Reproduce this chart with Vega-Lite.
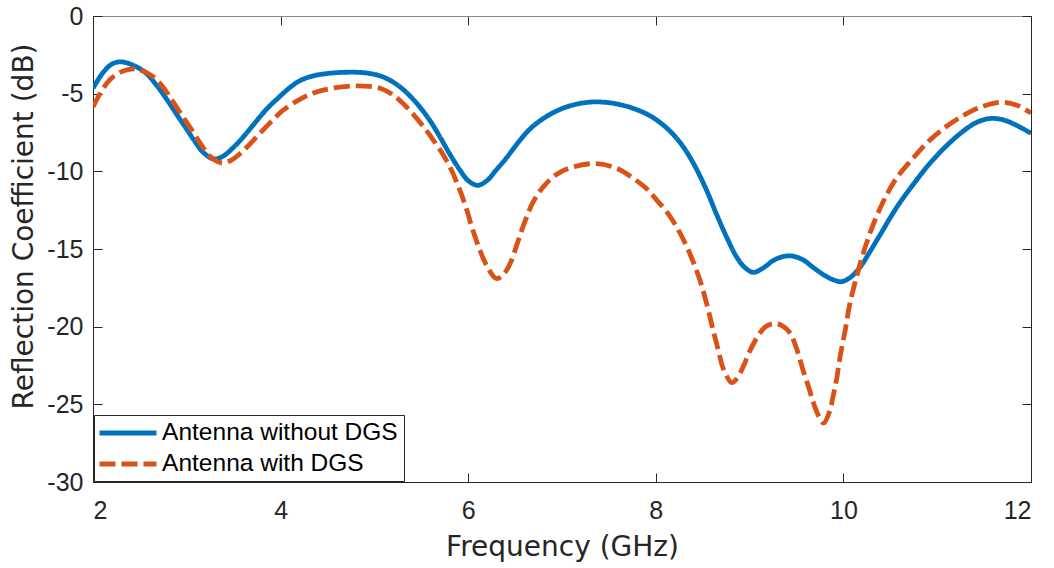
{
  "$schema": "https://vega.github.io/schema/vega-lite/v6.json",
  "width": 938,
  "height": 466,
  "autosize": {"type": "none"},
  "padding": {"left": 93, "top": 16, "right": 23, "bottom": 86},
  "background": "white",
  "config": {
    "font": "Liberation Sans",
    "view": {"stroke": null},
    "axis": {
      "labelFont": "Liberation Sans",
      "labelFontSize": 25,
      "titleFont": "DejaVu Sans",
      "titleFontSize": 28,
      "labelColor": "#262626",
      "titleColor": "#262626",
      "titleFontWeight": "normal",
      "domainColor": "#262626",
      "tickColor": "#262626",
      "gridColor": "#dedede",
      "gridWidth": 1,
      "tickSize": -9,
      "tickWidth": 1
    }
  },
  "datasets": {
    "curves": [
      {"f": 2.0, "v": -4.65, "series": "Antenna without DGS"},
      {"f": 2.1, "v": -3.7, "series": "Antenna without DGS"},
      {"f": 2.2, "v": -3.1, "series": "Antenna without DGS"},
      {"f": 2.29, "v": -2.95, "series": "Antenna without DGS"},
      {"f": 2.4, "v": -3.1, "series": "Antenna without DGS"},
      {"f": 2.55, "v": -3.6, "series": "Antenna without DGS"},
      {"f": 2.67, "v": -4.4, "series": "Antenna without DGS"},
      {"f": 2.79, "v": -5.4, "series": "Antenna without DGS"},
      {"f": 2.9, "v": -6.4, "series": "Antenna without DGS"},
      {"f": 3.0, "v": -7.3, "series": "Antenna without DGS"},
      {"f": 3.1, "v": -8.2, "series": "Antenna without DGS"},
      {"f": 3.17, "v": -8.75, "series": "Antenna without DGS"},
      {"f": 3.28, "v": -9.2, "series": "Antenna without DGS"},
      {"f": 3.38, "v": -9.05, "series": "Antenna without DGS"},
      {"f": 3.49, "v": -8.5, "series": "Antenna without DGS"},
      {"f": 3.6, "v": -7.8, "series": "Antenna without DGS"},
      {"f": 3.71, "v": -7.0, "series": "Antenna without DGS"},
      {"f": 3.85, "v": -6.0, "series": "Antenna without DGS"},
      {"f": 3.97, "v": -5.3, "series": "Antenna without DGS"},
      {"f": 4.1, "v": -4.6, "series": "Antenna without DGS"},
      {"f": 4.21, "v": -4.15, "series": "Antenna without DGS"},
      {"f": 4.35, "v": -3.85, "series": "Antenna without DGS"},
      {"f": 4.5, "v": -3.7, "series": "Antenna without DGS"},
      {"f": 4.71, "v": -3.62, "series": "Antenna without DGS"},
      {"f": 4.9, "v": -3.66, "series": "Antenna without DGS"},
      {"f": 5.06, "v": -3.85, "series": "Antenna without DGS"},
      {"f": 5.17, "v": -4.15, "series": "Antenna without DGS"},
      {"f": 5.27, "v": -4.55, "series": "Antenna without DGS"},
      {"f": 5.38, "v": -5.15, "series": "Antenna without DGS"},
      {"f": 5.49, "v": -5.9, "series": "Antenna without DGS"},
      {"f": 5.6, "v": -6.8, "series": "Antenna without DGS"},
      {"f": 5.7, "v": -7.8, "series": "Antenna without DGS"},
      {"f": 5.8, "v": -8.85, "series": "Antenna without DGS"},
      {"f": 5.91, "v": -9.9, "series": "Antenna without DGS"},
      {"f": 6.0, "v": -10.6, "series": "Antenna without DGS"},
      {"f": 6.1, "v": -10.9, "series": "Antenna without DGS"},
      {"f": 6.2, "v": -10.6, "series": "Antenna without DGS"},
      {"f": 6.3, "v": -9.9, "series": "Antenna without DGS"},
      {"f": 6.4, "v": -9.2, "series": "Antenna without DGS"},
      {"f": 6.5, "v": -8.4, "series": "Antenna without DGS"},
      {"f": 6.6, "v": -7.65, "series": "Antenna without DGS"},
      {"f": 6.69, "v": -7.1, "series": "Antenna without DGS"},
      {"f": 6.8, "v": -6.6, "series": "Antenna without DGS"},
      {"f": 6.93, "v": -6.15, "series": "Antenna without DGS"},
      {"f": 7.05, "v": -5.85, "series": "Antenna without DGS"},
      {"f": 7.2, "v": -5.62, "series": "Antenna without DGS"},
      {"f": 7.35, "v": -5.53, "series": "Antenna without DGS"},
      {"f": 7.5, "v": -5.58, "series": "Antenna without DGS"},
      {"f": 7.65, "v": -5.75, "series": "Antenna without DGS"},
      {"f": 7.76, "v": -5.95, "series": "Antenna without DGS"},
      {"f": 7.9, "v": -6.3, "series": "Antenna without DGS"},
      {"f": 8.01, "v": -6.7, "series": "Antenna without DGS"},
      {"f": 8.15, "v": -7.4, "series": "Antenna without DGS"},
      {"f": 8.29, "v": -8.4, "series": "Antenna without DGS"},
      {"f": 8.42, "v": -9.7, "series": "Antenna without DGS"},
      {"f": 8.54, "v": -11.2, "series": "Antenna without DGS"},
      {"f": 8.65, "v": -12.8, "series": "Antenna without DGS"},
      {"f": 8.76, "v": -14.3, "series": "Antenna without DGS"},
      {"f": 8.86, "v": -15.5, "series": "Antenna without DGS"},
      {"f": 8.95, "v": -16.2, "series": "Antenna without DGS"},
      {"f": 9.04, "v": -16.5, "series": "Antenna without DGS"},
      {"f": 9.15, "v": -16.2, "series": "Antenna without DGS"},
      {"f": 9.25, "v": -15.75, "series": "Antenna without DGS"},
      {"f": 9.35, "v": -15.5, "series": "Antenna without DGS"},
      {"f": 9.45, "v": -15.45, "series": "Antenna without DGS"},
      {"f": 9.57, "v": -15.7, "series": "Antenna without DGS"},
      {"f": 9.68, "v": -16.2, "series": "Antenna without DGS"},
      {"f": 9.8, "v": -16.7, "series": "Antenna without DGS"},
      {"f": 9.9, "v": -17.0, "series": "Antenna without DGS"},
      {"f": 9.98, "v": -17.1, "series": "Antenna without DGS"},
      {"f": 10.08, "v": -16.8, "series": "Antenna without DGS"},
      {"f": 10.18, "v": -16.15, "series": "Antenna without DGS"},
      {"f": 10.28, "v": -15.2, "series": "Antenna without DGS"},
      {"f": 10.39, "v": -14.1, "series": "Antenna without DGS"},
      {"f": 10.57, "v": -12.3, "series": "Antenna without DGS"},
      {"f": 10.75, "v": -10.8, "series": "Antenna without DGS"},
      {"f": 10.92, "v": -9.5, "series": "Antenna without DGS"},
      {"f": 11.1, "v": -8.35, "series": "Antenna without DGS"},
      {"f": 11.28, "v": -7.4, "series": "Antenna without DGS"},
      {"f": 11.42, "v": -6.85, "series": "Antenna without DGS"},
      {"f": 11.56, "v": -6.6, "series": "Antenna without DGS"},
      {"f": 11.7, "v": -6.68, "series": "Antenna without DGS"},
      {"f": 11.85, "v": -7.05, "series": "Antenna without DGS"},
      {"f": 12.0, "v": -7.55, "series": "Antenna without DGS"},
      {"f": 2.0, "v": -5.85, "series": "Antenna with DGS"},
      {"f": 2.09, "v": -4.85, "series": "Antenna with DGS"},
      {"f": 2.18, "v": -4.1, "series": "Antenna with DGS"},
      {"f": 2.3, "v": -3.6, "series": "Antenna with DGS"},
      {"f": 2.43, "v": -3.4, "series": "Antenna with DGS"},
      {"f": 2.54, "v": -3.55, "series": "Antenna with DGS"},
      {"f": 2.64, "v": -3.9, "series": "Antenna with DGS"},
      {"f": 2.75, "v": -4.6, "series": "Antenna with DGS"},
      {"f": 2.85, "v": -5.5, "series": "Antenna with DGS"},
      {"f": 2.96, "v": -6.5, "series": "Antenna with DGS"},
      {"f": 3.07, "v": -7.5, "series": "Antenna with DGS"},
      {"f": 3.16, "v": -8.35, "series": "Antenna with DGS"},
      {"f": 3.25, "v": -9.05, "series": "Antenna with DGS"},
      {"f": 3.37, "v": -9.45, "series": "Antenna with DGS"},
      {"f": 3.47, "v": -9.3, "series": "Antenna with DGS"},
      {"f": 3.57, "v": -8.85, "series": "Antenna with DGS"},
      {"f": 3.68, "v": -8.2, "series": "Antenna with DGS"},
      {"f": 3.78, "v": -7.55, "series": "Antenna with DGS"},
      {"f": 3.9, "v": -6.8, "series": "Antenna with DGS"},
      {"f": 4.03, "v": -6.05, "series": "Antenna with DGS"},
      {"f": 4.21, "v": -5.35, "series": "Antenna with DGS"},
      {"f": 4.35, "v": -4.95, "series": "Antenna with DGS"},
      {"f": 4.55, "v": -4.65, "series": "Antenna with DGS"},
      {"f": 4.81, "v": -4.5, "series": "Antenna with DGS"},
      {"f": 5.06, "v": -4.65, "series": "Antenna with DGS"},
      {"f": 5.18, "v": -5.0, "series": "Antenna with DGS"},
      {"f": 5.3, "v": -5.6, "series": "Antenna with DGS"},
      {"f": 5.41, "v": -6.3, "series": "Antenna with DGS"},
      {"f": 5.52, "v": -7.1, "series": "Antenna with DGS"},
      {"f": 5.63, "v": -8.0, "series": "Antenna with DGS"},
      {"f": 5.73, "v": -8.9, "series": "Antenna with DGS"},
      {"f": 5.82, "v": -9.9, "series": "Antenna with DGS"},
      {"f": 5.91, "v": -11.2, "series": "Antenna with DGS"},
      {"f": 5.98, "v": -12.4, "series": "Antenna with DGS"},
      {"f": 6.05, "v": -13.8, "series": "Antenna with DGS"},
      {"f": 6.12, "v": -15.0, "series": "Antenna with DGS"},
      {"f": 6.2, "v": -16.1, "series": "Antenna with DGS"},
      {"f": 6.3, "v": -16.9, "series": "Antenna with DGS"},
      {"f": 6.38, "v": -16.6, "series": "Antenna with DGS"},
      {"f": 6.45, "v": -15.9, "series": "Antenna with DGS"},
      {"f": 6.52, "v": -14.7, "series": "Antenna with DGS"},
      {"f": 6.6, "v": -13.3, "series": "Antenna with DGS"},
      {"f": 6.69, "v": -12.0, "series": "Antenna with DGS"},
      {"f": 6.8, "v": -11.0, "series": "Antenna with DGS"},
      {"f": 6.94, "v": -10.2, "series": "Antenna with DGS"},
      {"f": 7.1, "v": -9.75, "series": "Antenna with DGS"},
      {"f": 7.37, "v": -9.5, "series": "Antenna with DGS"},
      {"f": 7.6, "v": -9.85, "series": "Antenna with DGS"},
      {"f": 7.76, "v": -10.45, "series": "Antenna with DGS"},
      {"f": 7.9, "v": -11.1, "series": "Antenna with DGS"},
      {"f": 8.01, "v": -11.85, "series": "Antenna with DGS"},
      {"f": 8.14, "v": -12.8, "series": "Antenna with DGS"},
      {"f": 8.26, "v": -14.0, "series": "Antenna with DGS"},
      {"f": 8.37, "v": -15.4, "series": "Antenna with DGS"},
      {"f": 8.47, "v": -17.0, "series": "Antenna with DGS"},
      {"f": 8.55, "v": -18.7, "series": "Antenna with DGS"},
      {"f": 8.61, "v": -20.2, "series": "Antenna with DGS"},
      {"f": 8.67, "v": -21.6, "series": "Antenna with DGS"},
      {"f": 8.72, "v": -22.7, "series": "Antenna with DGS"},
      {"f": 8.81, "v": -23.6, "series": "Antenna with DGS"},
      {"f": 8.87, "v": -23.3, "series": "Antenna with DGS"},
      {"f": 8.93, "v": -22.6, "series": "Antenna with DGS"},
      {"f": 9.0, "v": -21.6, "series": "Antenna with DGS"},
      {"f": 9.08, "v": -20.7, "series": "Antenna with DGS"},
      {"f": 9.17, "v": -20.0, "series": "Antenna with DGS"},
      {"f": 9.27, "v": -19.8, "series": "Antenna with DGS"},
      {"f": 9.35, "v": -19.95, "series": "Antenna with DGS"},
      {"f": 9.43, "v": -20.4, "series": "Antenna with DGS"},
      {"f": 9.5, "v": -21.4, "series": "Antenna with DGS"},
      {"f": 9.57, "v": -22.8, "series": "Antenna with DGS"},
      {"f": 9.63, "v": -23.9, "series": "Antenna with DGS"},
      {"f": 9.68, "v": -24.9, "series": "Antenna with DGS"},
      {"f": 9.74, "v": -25.8, "series": "Antenna with DGS"},
      {"f": 9.79, "v": -26.2, "series": "Antenna with DGS"},
      {"f": 9.85, "v": -25.5, "series": "Antenna with DGS"},
      {"f": 9.89, "v": -24.5, "series": "Antenna with DGS"},
      {"f": 9.93, "v": -23.3, "series": "Antenna with DGS"},
      {"f": 9.96, "v": -22.1, "series": "Antenna with DGS"},
      {"f": 10.02, "v": -20.2, "series": "Antenna with DGS"},
      {"f": 10.07, "v": -18.5, "series": "Antenna with DGS"},
      {"f": 10.14, "v": -16.8, "series": "Antenna with DGS"},
      {"f": 10.21, "v": -15.3, "series": "Antenna with DGS"},
      {"f": 10.3, "v": -13.7, "series": "Antenna with DGS"},
      {"f": 10.39, "v": -12.4, "series": "Antenna with DGS"},
      {"f": 10.48, "v": -11.3, "series": "Antenna with DGS"},
      {"f": 10.57, "v": -10.4, "series": "Antenna with DGS"},
      {"f": 10.75, "v": -9.1, "series": "Antenna with DGS"},
      {"f": 10.92, "v": -8.0, "series": "Antenna with DGS"},
      {"f": 11.1, "v": -7.1, "series": "Antenna with DGS"},
      {"f": 11.28, "v": -6.4, "series": "Antenna with DGS"},
      {"f": 11.45, "v": -5.9, "series": "Antenna with DGS"},
      {"f": 11.67, "v": -5.55, "series": "Antenna with DGS"},
      {"f": 11.85, "v": -5.75, "series": "Antenna with DGS"},
      {"f": 12.0, "v": -6.25, "series": "Antenna with DGS"}
    ]
  },
  "data": {"name": "curves"},
  "resolve": {"axis": {"x": "independent", "y": "independent"}},
  "layer": [
    {
      "mark": {"type": "point", "opacity": 0},
      "encoding": {
        "x": {
          "field": "f", "type": "quantitative",
          "scale": {"domain": [2, 12], "nice": false, "zero": false},
          "axis": {"orient": "top", "values": [2, 4, 6, 8, 10, 12], "labels": false, "title": null, "grid": false, "domainColor": "#8a8a8a"}
        },
        "y": {
          "field": "v", "type": "quantitative",
          "scale": {"domain": [-30, 0], "nice": false, "zero": false},
          "axis": {"orient": "right", "values": [-30, -25, -20, -15, -10, -5, 0], "labels": false, "title": null, "grid": false}
        }
      }
    },
    {
      "mark": {"type": "line", "interpolate": "catmull-rom", "strokeWidth": 4.8, "clip": true},
      "encoding": {
        "x": {
          "field": "f", "type": "quantitative",
          "scale": {"domain": [2, 12], "nice": false, "zero": false},
          "axis": {"orient": "bottom", "values": [2, 4, 6, 8, 10, 12], "title": "Frequency (GHz)", "labelPadding": 25, "titlePadding": 10, "labelExpr": "'' + datum.value"}
        },
        "y": {
          "field": "v", "type": "quantitative",
          "scale": {"domain": [-30, 0], "nice": false, "zero": false},
          "axis": {"orient": "left", "values": [-30, -25, -20, -15, -10, -5, 0], "title": "Reflection Coefficient (dB)", "labelPadding": 19, "titlePadding": 8, "titleY": 210, "labelExpr": "'' + datum.value"}
        },
        "color": {
          "field": "series", "type": "nominal",
          "scale": {"domain": ["Antenna without DGS", "Antenna with DGS"], "range": ["#0072BD", "#D95319"]},
          "legend": {
            "orient": "bottom-left", "offset": 1, "title": null,
            "strokeColor": "#262626", "fillColor": "white", "padding": 5.5,
            "symbolType": "M-1.25,0H4.45", "symbolSize": 400, "symbolStrokeWidth": 4.8,
            "labelFont": "Liberation Sans", "labelFontSize": 24.5, "labelColor": "#000000",
            "labelOffset": 37.6, "rowPadding": 6, "labelLimit": 400
          }
        },
        "strokeDash": {
          "field": "series", "type": "nominal",
          "scale": {"domain": ["Antenna without DGS", "Antenna with DGS"], "range": [[1, 0], [16, 6]]},
          "legend": null
        },
        "detail": {"field": "series"}
      }
    }
  ]
}
